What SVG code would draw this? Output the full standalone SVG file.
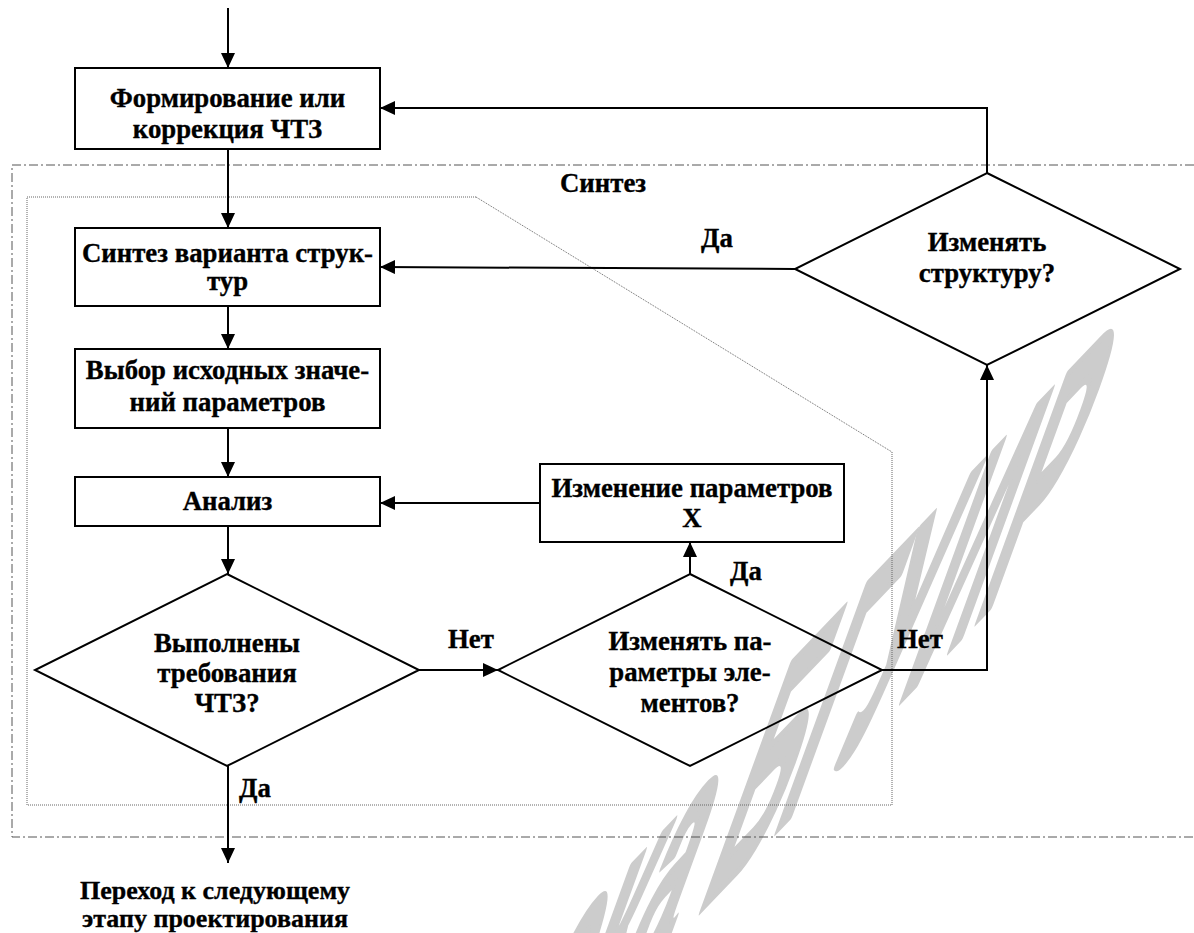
<svg xmlns="http://www.w3.org/2000/svg" width="1194" height="933" viewBox="0 0 1194 933">
<defs>
<marker id="arr" markerUnits="userSpaceOnUse" markerWidth="16" markerHeight="14" refX="15" refY="7" orient="auto">
<path d="M0,0 L15,7 L0,14 Z" fill="#000"/>
</marker>
<style>
.box{fill:none;stroke:#000;stroke-width:2}
.t{font-family:"Liberation Serif","Times New Roman",serif;font-weight:bold;font-size:26.8px;fill:#000;stroke:#000;stroke-width:0.35px}
.m{text-anchor:middle}
.c{fill:none;stroke:#000;stroke-width:2}
.a{marker-end:url(#arr)}
.wm{font-family:"Liberation Sans",Arial,sans-serif;font-weight:bold;font-size:100px;fill:#cccccc;stroke:#cccccc;stroke-width:3px;stroke-linejoin:round}
</style>
</defs>
<rect width="1194" height="933" fill="#fff"/>
<text class="wm" text-anchor="end" transform="matrix(1.05,-1.10,-1.30,3.572,1040,555)">Библиотека БГУИР</text>
<g id="containers">
<path d="M1194,165 H12 V837 H1194" fill="none" stroke="#555" stroke-width="1" stroke-dasharray="9,3,2,3"/>
<path d="M476,197 H27 V805 H892 V452 Z" fill="none" stroke="#666" stroke-width="1" stroke-dasharray="1,1"/>
<text class="t" x="560" y="192">Синтез</text>
</g>
<g id="connectors">
<path class="c a" d="M228,8 V68"/>
<path class="c a" d="M228,149 V228"/>
<path class="c a" d="M228,306 V349"/>
<path class="c a" d="M228,428 V477"/>
<path class="c a" d="M228,526 V574"/>
<path class="c a" d="M228,766 V863"/>
<path class="c a" d="M419,670 H498"/>
<path class="c a" d="M690,574 V542"/>
<path class="c a" d="M540,503 H380"/>
<path class="c a" d="M882,670 H987 V365"/>
<path class="c a" d="M795,269 L380,267"/>
<path class="c a" d="M987,173 V108 H380"/>
<text class="t" x="701" y="247">Да</text>
<text class="t" x="448" y="648">Нет</text>
<text class="t" x="730" y="580">Да</text>
<text class="t" x="897" y="648">Нет</text>
<text class="t" x="239" y="797">Да</text>
</g>
<g id="n1"><rect class="box" x="75" y="68" width="305" height="81"/>
<text class="t m" x="227.5" y="107">Формирование или</text><text class="t m" x="227.5" y="138">коррекция ЧТЗ</text></g>
<g id="n2"><rect class="box" x="75" y="228" width="305" height="78"/>
<text class="t m" x="227.5" y="262">Синтез варианта струк-</text><text class="t m" x="227.5" y="290">тур</text></g>
<g id="n3"><rect class="box" x="75" y="349" width="305" height="79"/>
<text class="t m" x="227.5" y="379">Выбор исходных значе-</text><text class="t m" x="227.5" y="411">ний параметров</text></g>
<g id="n4"><rect class="box" x="75" y="477" width="305" height="49"/>
<text class="t m" x="227.5" y="510">Анализ</text></g>
<g id="n5"><rect class="box" x="540" y="464" width="304" height="78"/>
<text class="t m" x="692" y="497">Изменение параметров</text><text class="t m" x="692" y="527">X</text></g>
<g id="d1"><path class="box" d="M227,574 L419,670 L227,766 L35,670 Z"/>
<text class="t m" x="227" y="652">Выполнены</text><text class="t m" x="227" y="682">требования</text><text class="t m" x="227" y="712">ЧТЗ?</text></g>
<g id="d2"><path class="box" d="M690,574 L882,670 L690,766 L498,670 Z"/>
<text class="t m" x="690" y="650">Изменять па-</text><text class="t m" x="690" y="681">раметры эле-</text><text class="t m" x="690" y="712">ментов?</text></g>
<g id="d3"><path class="box" d="M987,173 L1180,269 L987,365 L795,269 Z"/>
<text class="t m" x="987" y="251">Изменять</text><text class="t m" x="987" y="282">структуру?</text></g>
<g id="end"><text class="t m" x="215" y="899" style="font-size:26px">Переход к следующему</text><text class="t m" x="215" y="927" style="font-size:26px">этапу проектирования</text></g>
</svg>
